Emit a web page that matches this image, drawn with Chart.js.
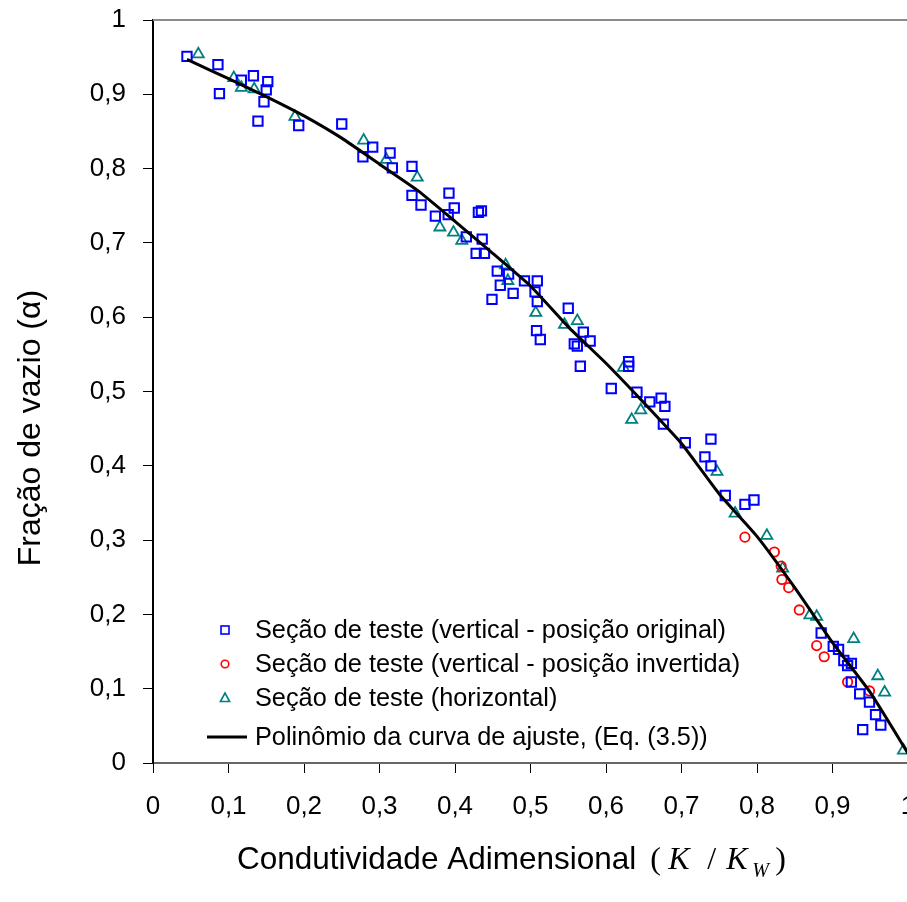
<!DOCTYPE html>
<html>
<head>
<meta charset="utf-8">
<script src="https://cdn.jsdelivr.net/npm/chart.js@4.4.1/dist/chart.umd.min.js"></script>
<style>
  html, body { margin: 0; padding: 0; background: #ffffff; overflow: hidden; }
  #wrap { width: 907px; height: 902px; overflow: hidden; }
  canvas { display: block; }
</style>
</head>
<body>
<div id="wrap"><canvas id="c" width="920" height="902"></canvas></div>
<script>
// Tick labels
const xTickLabels = ['0', '0,1', '0,2', '0,3', '0,4', '0,5', '0,6', '0,7', '0,8', '0,9', '1'];
const yTickLabels = ['0', '0,1', '0,2', '0,3', '0,4', '0,5', '0,6', '0,7', '0,8', '0,9', '1'];

// Series names
const seriesNames = [
  'Seção de teste (vertical - posição original)',
  'Seção de teste (vertical - posição invertida)',
  'Seção de teste (horizontal)',
  'Polinômio da curva de ajuste, (Eq. (3.5))'
];

// Vertical test section, original position (K/Kw, alpha)
const origX = [0.045, 0.086, 0.088, 0.117, 0.133, 0.152, 0.150, 0.147, 0.139, 0.193,
               0.250, 0.291, 0.278, 0.314, 0.317, 0.343, 0.343, 0.355, 0.392, 0.399,
               0.391, 0.374, 0.431, 0.435, 0.415, 0.436, 0.428, 0.439, 0.456, 0.471,
               0.460, 0.477, 0.449, 0.492, 0.509, 0.506, 0.509, 0.508, 0.513, 0.550,
               0.570, 0.579, 0.558, 0.562, 0.566, 0.630, 0.630, 0.607, 0.641, 0.658,
               0.673, 0.678, 0.676, 0.705, 0.739, 0.731, 0.739, 0.758, 0.784, 0.796,
               0.885, 0.901, 0.908, 0.915, 0.925, 0.920, 0.925, 0.936, 0.949, 0.957,
               0.964, 0.940];
const origY = [0.951, 0.940, 0.901, 0.919, 0.925, 0.917, 0.906, 0.890, 0.864, 0.858,
               0.860, 0.829, 0.816, 0.821, 0.801, 0.803, 0.764, 0.751, 0.767, 0.747,
               0.738, 0.736, 0.741, 0.743, 0.708, 0.705, 0.686, 0.686, 0.662, 0.658,
               0.643, 0.632, 0.624, 0.649, 0.649, 0.634, 0.621, 0.582, 0.570, 0.612,
               0.580, 0.568, 0.564, 0.561, 0.534, 0.540, 0.534, 0.504, 0.499, 0.486,
               0.491, 0.480, 0.456, 0.431, 0.436, 0.412, 0.400, 0.360, 0.348, 0.354,
               0.175, 0.157, 0.153, 0.138, 0.134, 0.131, 0.109, 0.093, 0.082, 0.065,
               0.051, 0.045];

// Vertical test section, inverted position
const invX = [0.784, 0.823, 0.832, 0.833, 0.842, 0.856, 0.879, 0.889, 0.920, 0.949];
const invY = [0.304, 0.284, 0.265, 0.247, 0.236, 0.206, 0.158, 0.143, 0.109, 0.097];

// Horizontal test section
const horX = [0.060, 0.107, 0.117, 0.134, 0.188, 0.279, 0.309, 0.350, 0.380, 0.398,
              0.409, 0.467, 0.470, 0.507, 0.562, 0.545, 0.623, 0.646, 0.634, 0.747,
              0.771, 0.813, 0.834, 0.870, 0.879, 0.928, 0.960, 0.969, 0.994];
const horY = [0.954, 0.922, 0.909, 0.907, 0.870, 0.838, 0.812, 0.788, 0.721, 0.714,
              0.703, 0.670, 0.649, 0.606, 0.595, 0.590, 0.532, 0.475, 0.462, 0.392,
              0.336, 0.306, 0.262, 0.199, 0.197, 0.167, 0.117, 0.095, 0.017];

// Fitted polynomial curve
const fitX = [0.045, 0.10, 0.15, 0.20, 0.25, 0.30, 0.35, 0.40, 0.45, 0.50,
              0.55, 0.60, 0.65, 0.70, 0.75, 0.80, 0.85, 0.90, 0.95, 1.00];
const fitY = [0.947, 0.921, 0.897, 0.871, 0.841, 0.806, 0.771, 0.729, 0.686, 0.642,
              0.587, 0.538, 0.485, 0.430, 0.362, 0.305, 0.236, 0.162, 0.095, 0.013];

const pts = (xs, ys) => xs.map((x, i) => ({ x: x, y: ys[i] }));

const BLUE = '#0000ff', RED = '#ff0000', TEAL = '#008080';
const FONT = '"Liberation Sans", Arial, sans-serif';
const SERIF = '"Liberation Serif", "Times New Roman", serif';

// Frame, axis titles and the in-plot legend
const decorations = {
  id: 'decorations',
  afterDraw(chart) {
    const ctx = chart.ctx;
    const a = chart.chartArea;
    ctx.save();

    // top border of the plot frame
    ctx.strokeStyle = '#8c8c8c';
    ctx.lineWidth = 2;
    ctx.beginPath();
    ctx.moveTo(a.left, a.top);
    ctx.lineTo(a.right, a.top);
    ctx.stroke();

    // y title
    ctx.fillStyle = '#000';
    ctx.save();
    ctx.translate(31, 428);
    ctx.rotate(-Math.PI / 2);
    ctx.font = '32px ' + FONT;
    ctx.textAlign = 'center';
    ctx.textBaseline = 'middle';
    ctx.fillText('Fração de vazio (α)', 0, 0);
    ctx.restore();

    // x title with the (K / K_W) expression
    ctx.textAlign = 'left';
    ctx.textBaseline = 'alphabetic';
    const base = 869;
    const x0 = 237;
    ctx.font = '31.5px ' + FONT;
    ctx.fillText('Condutividade Adimensional', x0, base);
    const m = x0 + ctx.measureText('Condutividade Adimensional').width;
    ctx.font = '32px ' + SERIF;
    ctx.fillText('(', m + 14, base);
    ctx.font = 'italic 32px ' + SERIF;
    ctx.fillText('K', m + 32, base);
    ctx.font = '32px ' + SERIF;
    ctx.fillText('/', m + 71, base);
    ctx.font = 'italic 32px ' + SERIF;
    ctx.fillText('K', m + 90, base);
    ctx.font = 'italic 20px ' + SERIF;
    ctx.fillText('W', m + 116, base + 8);
    ctx.font = '32px ' + SERIF;
    ctx.fillText(')', m + 139, base);

    // legend
    const rows = [630, 664, 698, 737];
    const mx = 225, tx = 255;
    ctx.lineWidth = 1.6;
    ctx.strokeStyle = BLUE;
    ctx.strokeRect(mx - 4, rows[0] - 4, 8, 8);
    ctx.strokeStyle = RED;
    ctx.beginPath(); ctx.arc(mx, rows[1], 3.8, 0, Math.PI * 2); ctx.stroke();
    ctx.strokeStyle = TEAL;
    ctx.beginPath();
    ctx.moveTo(mx, rows[2] - 5); ctx.lineTo(mx + 4.6, rows[2] + 3.5); ctx.lineTo(mx - 4.6, rows[2] + 3.5);
    ctx.closePath(); ctx.stroke();
    ctx.strokeStyle = '#000';
    ctx.lineWidth = 3;
    ctx.beginPath(); ctx.moveTo(207, rows[3]); ctx.lineTo(247, rows[3]); ctx.stroke();

    ctx.fillStyle = '#000';
    ctx.font = '25.3px ' + FONT;
    ctx.textBaseline = 'middle';
    seriesNames.forEach((name, i) => ctx.fillText(name, tx, rows[i] + 1));
    ctx.restore();
  }
};

new Chart(document.getElementById('c'), {
  type: 'scatter',
  data: {
    datasets: [
      {
        type: 'line',
        label: seriesNames[3],
        data: pts(fitX, fitY),
        borderColor: '#000',
        borderWidth: 3,
        pointRadius: 0,
        fill: false,
        tension: 0.15,
        order: 0
      },
      {
        label: seriesNames[0],
        data: pts(origX, origY),
        pointStyle: 'rect',
        pointRadius: 6.6,
        pointBorderWidth: 2,
        borderColor: BLUE,
        backgroundColor: 'rgba(0,0,0,0)',
        order: 1
      },
      {
        label: seriesNames[1],
        data: pts(invX, invY),
        pointStyle: 'circle',
        pointRadius: 4.7,
        pointBorderWidth: 1.8,
        borderColor: RED,
        backgroundColor: 'rgba(0,0,0,0)',
        order: 1
      },
      {
        label: seriesNames[2],
        data: pts(horX, horY),
        pointStyle: 'triangle',
        pointRadius: 6.4,
        pointBorderWidth: 1.8,
        borderColor: TEAL,
        backgroundColor: 'rgba(0,0,0,0)',
        order: 1
      }
    ]
  },
  options: {
    responsive: false,
    animation: false,
    devicePixelRatio: 1,
    layout: { padding: { left: 0, top: 20, right: 12, bottom: 0 } },
    plugins: { legend: { display: false }, tooltip: { enabled: false } },
    scales: {
      x: {
        type: 'linear',
        min: 0, max: 1,
        afterFit: s => { s.height = 139; s.paddingLeft = 0; s.paddingRight = 0; },
        afterBuildTicks: s => { s.ticks = xTickLabels.map((_, i) => ({ value: i / 10 })); },
        ticks: {
          autoSkip: false, maxRotation: 0, padding: 18,
          color: '#000', font: { family: FONT, size: 26 },
          callback: (v, i) => xTickLabels[i]
        },
        grid: { drawOnChartArea: false, drawTicks: true, tickLength: 10, color: '#000', lineWidth: 1 },
        border: { display: true, color: '#666666', width: 2 }
      },
      y: {
        type: 'linear',
        min: 0, max: 1,
        afterFit: s => { s.width = 153; s.paddingTop = 0; s.paddingBottom = 0; },
        afterBuildTicks: s => { s.ticks = yTickLabels.map((_, i) => ({ value: i / 10 })); },
        ticks: {
          autoSkip: false, padding: 17,
          color: '#000', font: { family: FONT, size: 26 },
          callback: (v, i) => yTickLabels[i]
        },
        grid: { drawOnChartArea: false, drawTicks: true, tickLength: 10, color: '#000', lineWidth: 1 },
        border: { display: true, color: '#000', width: 2 }
      }
    }
  },
  plugins: [decorations]
});
</script>
</body>
</html>
